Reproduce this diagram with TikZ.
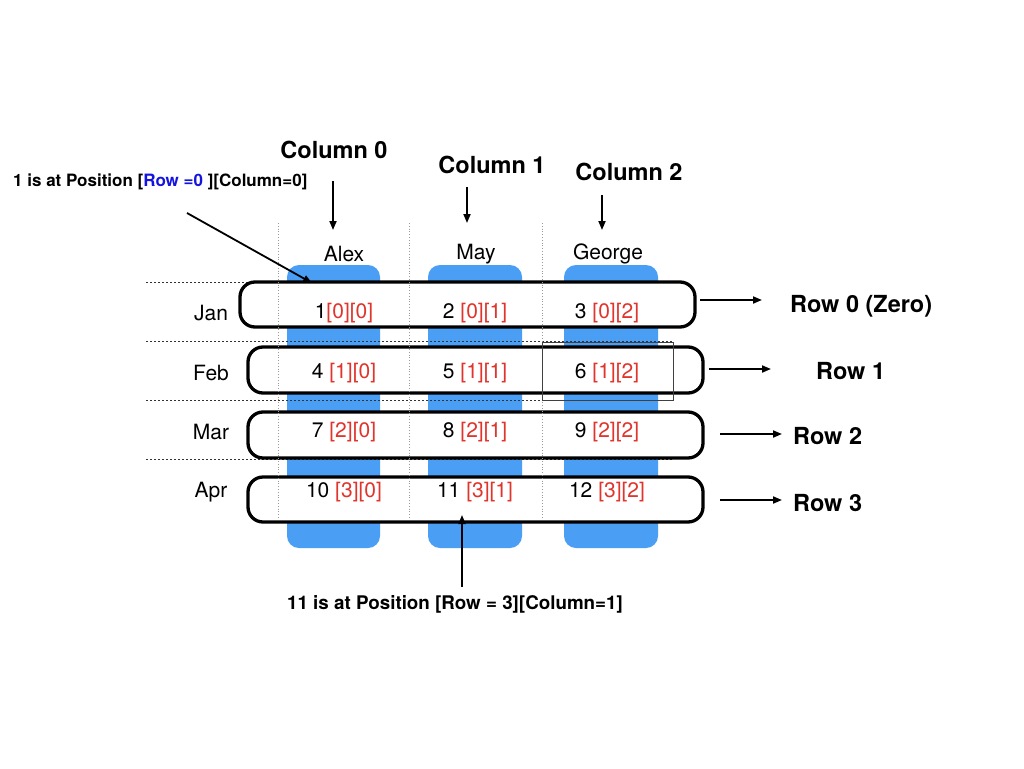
\documentclass[tikz,border=0pt]{standalone}
\usepackage{fontspec}
\setmainfont{TeX Gyre Heros}
\usetikzlibrary{arrows.meta}
\definecolor{colblue}{HTML}{4A9FF5}
\definecolor{idxred}{HTML}{E0342C}
\definecolor{annblue}{HTML}{1414E0}
\tikzset{
  colbar/.style={fill=colblue, draw=none, rounded corners=12pt},
  rowbox/.style={draw=black, line width=3.3pt, fill=white, rounded corners=15pt},
  vgrid/.style={draw=gray!80, line width=0.8pt, dotted},
  hgrid/.style={draw=black!80, line width=0.8pt, dash pattern=on 2pt off 2pt},
  arr/.style={draw=black, line width=1.8pt, -{Triangle[length=9pt,width=7pt]}},
  cell/.style={font=\fontsize{21}{25}\selectfont, inner sep=0pt},
  lab/.style={font=\fontsize{21}{25}\selectfont, inner sep=0pt},
  big/.style={font=\bfseries\fontsize{23.5}{28}\selectfont, inner sep=0pt},
  ann/.style={font=\bfseries\fontsize{17}{20}\selectfont, inner sep=0pt},
}
\newcommand{\ix}[1]{\textcolor{idxred}{#1}}
\begin{document}
\begin{tikzpicture}[x=1pt,y=-1pt]
\useasboundingbox[fill=white] (0,0) rectangle (1024,768);
% blue columns
\fill[colbar] (287,265) rectangle (380,548);
\fill[colbar] (428,265) rectangle (522,548);
\fill[colbar] (564,265) rectangle (658,548);
% horizontal dotted lines
\draw[hgrid] (146,282) -- (672,282);
\draw[hgrid] (146,341) -- (672,341);
\draw[hgrid] (146,400) -- (672,400);
\draw[hgrid] (146,459) -- (672,459);
% row boxes
\draw[rowbox] (240,282) rectangle (695,327);
\draw[rowbox] (248,347) rectangle (703,393);
\draw[rowbox] (248,412) rectangle (703,458);
\draw[rowbox] (248,477) rectangle (703,522);
% vertical dotted lines
\draw[vgrid] (278,223) -- (278,518);
\draw[vgrid] (409,223) -- (409,518);
\draw[vgrid] (542,223) -- (542,518);
% thin rectangle around 6
\draw[black!75, line width=1pt] (542,342) rectangle (673,400);
% column headers
\node[big] (c0) at (334,150) {Column 0};
\node[big] (c1) at (492,165) {Column 1};
\node[big] (c2) at (629,172) {Column 2};
\coordinate (c0a) at (333,181); \coordinate (c0b) at (333,230);
\coordinate (c1a) at (467,187); \coordinate (c1b) at (467,223);
\coordinate (c2a) at (602,195); \coordinate (c2b) at (602,230);
\draw[arr] (c0a) -- (c0b);
\draw[arr] (c1a) -- (c1b);
\draw[arr] (c2a) -- (c2b);
% names
\node[lab] (alex) at (344,254) {Alex};
\node[lab] (may) at (476,254) {May};
\node[lab] (george) at (608,254) {George};
% months
\node[lab] (jan) at (211,313) {Jan};
\node[lab] (feb) at (211,373) {Feb};
\node[lab] (mar) at (211,432) {Mar};
\node[lab] (apr) at (211,492) {Apr};
% cells
\node[cell] (v1) at (344,313) {1\ix{[0][0]}};
\node[cell] (v2) at (475,313) {2 \ix{[0][1]}};
\node[cell] (v3) at (607,313) {3 \ix{[0][2]}};
\node[cell] (v4) at (344,373) {4 \ix{[1][0]}};
\node[cell] (v5) at (475,373) {5 \ix{[1][1]}};
\node[cell] (v6) at (607,373) {6 \ix{[1][2]}};
\node[cell] (v7) at (344,432) {7 \ix{[2][0]}};
\node[cell] (v8) at (475,432) {8 \ix{[2][1]}};
\node[cell] (v9) at (607,432) {9 \ix{[2][2]}};
\node[cell] (v10) at (344,492) {10 \ix{[3][0]}};
\node[cell] (v11) at (475,492) {11 \ix{[3][1]}};
\node[cell] (v12) at (607,492) {12 \ix{[3][2]}};
% row labels
\node[big, anchor=west] (r0) at (790,306) {Row 0 (Zero)};
\node[big, anchor=west] (r1) at (816,371) {Row 1};
\node[big, anchor=west] (r2) at (793,436) {Row 2};
\node[big, anchor=west] (r3) at (793,503) {Row 3};
\coordinate (r0a) at (700,300); \coordinate (r0b) at (762,300);
\coordinate (r1a) at (709,369); \coordinate (r1b) at (771,369);
\coordinate (r2a) at (720,434); \coordinate (r2b) at (782,434);
\coordinate (r3a) at (720,500); \coordinate (r3b) at (782,500);
\draw[arr] (r0a) -- (r0b);
\draw[arr] (r1a) -- (r1b);
\draw[arr] (r2a) -- (r2b);
\draw[arr] (r3a) -- (r3b);
% annotations
\node[ann, anchor=west] (a1) at (13,182) {1 is at Position [\textcolor{annblue}{Row =0} ][Column=0]};
\coordinate (a1s) at (187,213); \coordinate (a1e) at (312,283);
\draw[arr] (a1s) -- (a1e);
\node[ann] (a2) at (455,604) {\fontsize{18.8}{22}\selectfont 11 is at Position [Row = 3][Column=1]};
\coordinate (a2s) at (462,587); \coordinate (a2e) at (462,515);
\draw[arr] (a2s) -- (a2e);
\end{tikzpicture}
\end{document}
